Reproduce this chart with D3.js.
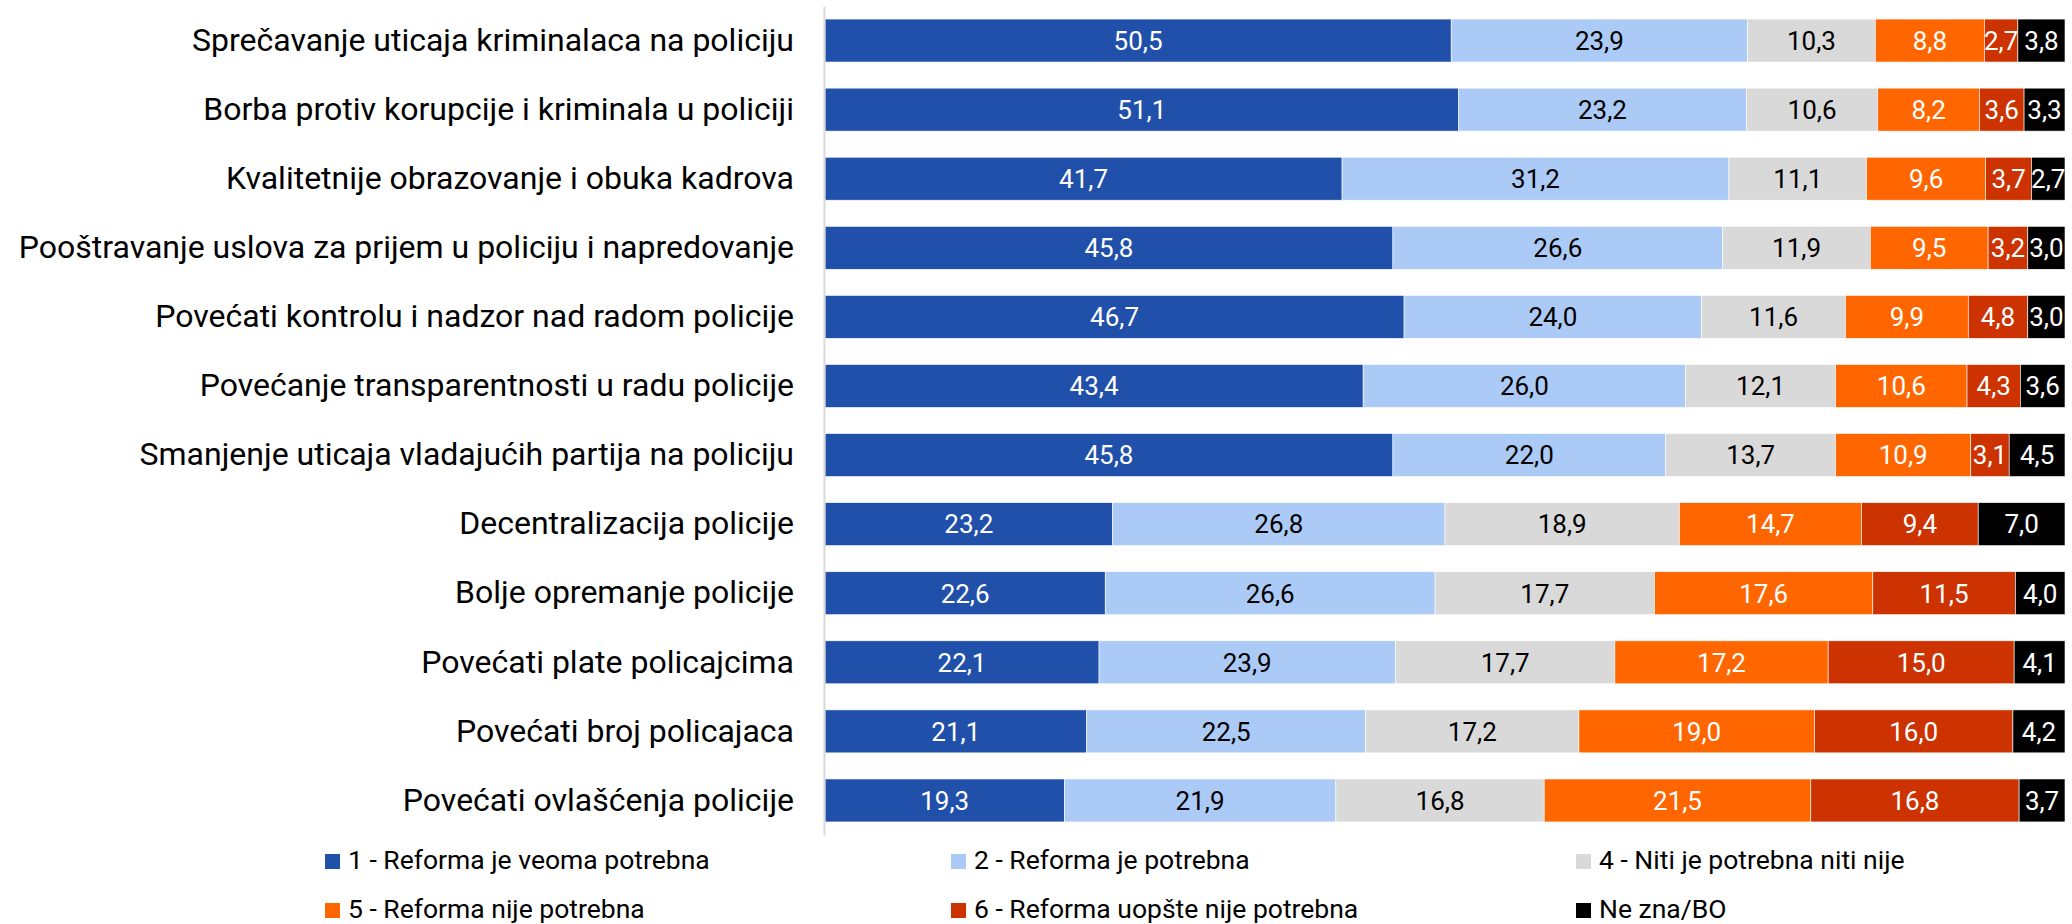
<!DOCTYPE html>
<html>
<head>
<meta charset="utf-8">
<script src="https://cdn.jsdelivr.net/npm/d3@7"></script>
<style>
body{margin:0;background:#fff;}
svg text{font-family:Roboto, "Noto Sans", sans-serif;}
.y .domain{stroke:#d9d9d9;stroke-width:2;}
</style>
</head>
<body>
<div id="graph"></div>
<script>
(function(){
"use strict";

var categories = [
	"Sprečavanje uticaja kriminalaca na policiju",
	"Borba protiv korupcije i kriminala u policiji",
	"Kvalitetnije obrazovanje i obuka kadrova",
	"Pooštravanje uslova za prijem u policiju i napredovanje",
	"Povećati kontrolu i nadzor nad radom policije",
	"Povećanje transparentnosti u radu policije",
	"Smanjenje uticaja vladajućih partija na policiju",
	"Decentralizacija policije",
	"Bolje opremanje policije",
	"Povećati plate policajcima",
	"Povećati broj policajaca",
	"Povećati ovlašćenja policije"
];
var seriesNames = ["1 - Reforma je veoma potrebna", "2 - Reforma je potrebna", "4 - Niti je potrebna niti nije",
	"5 - Reforma nije potrebna", "6 - Reforma uopšte nije potrebna", "Ne zna/BO"];
var veomaPotrebna = [50.5, 51.1, 41.7, 45.8, 46.7, 43.4, 45.8, 23.2, 22.6, 22.1, 21.1, 19.3];
var potrebna      = [23.9, 23.2, 31.2, 26.6, 24.0, 26.0, 22.0, 26.8, 26.6, 23.9, 22.5, 21.9];
var nitiNije      = [10.3, 10.6, 11.1, 11.9, 11.6, 12.1, 13.7, 18.9, 17.7, 17.7, 17.2, 16.8];
var nijePotrebna  = [8.8, 8.2, 9.6, 9.5, 9.9, 10.6, 10.9, 14.7, 17.6, 17.2, 19.0, 21.5];
var uopsteNije    = [2.7, 3.6, 3.7, 3.2, 4.8, 4.3, 3.1, 9.4, 11.5, 15.0, 16.0, 16.8];
var neZna         = [3.8, 3.3, 2.7, 3.0, 3.0, 3.6, 4.5, 7.0, 4.0, 4.1, 4.2, 3.7];

var colors = ["#2150aa", "#abcaf6", "#d9d9d9", "#ff6600", "#cc3300", "#000000"];
var textColors = ["#fff", "#000", "#000", "#fff", "#fff", "#fff"];

var width = 2072;
var height = 924;
var left = 825;
var right = 2065;

// build rows for the stack
var keys = ["s0", "s1", "s2", "s3", "s4", "s5"];
var allSeries = [veomaPotrebna, potrebna, nitiNije, nijePotrebna, uopsteNije, neZna];
var rows = categories.map(function(c, i){
	var r = {name: c};
	keys.forEach(function(k, j){ r[k] = allSeries[j][i]; });
	return r;
});
var stacked = d3.stack().keys(keys)(rows);

var x = d3.scaleLinear()
	.domain([0, 100])
	.range([left, right]);
var y = d3.scaleBand()
	.domain(categories)
	.range([6, 835])
	.paddingInner(0.378)
	.paddingOuter(0.189);

var fmt = function(v){ return v.toFixed(1).replace(".", ","); };

var svg = d3.select('#graph')
	.append('svg')
		.attr('width', width)
		.attr('height', height);

var layer = svg.selectAll('.layer')
	.data(stacked)
	.enter()
	.append('g')
		.attr('class', 'layer')
		.attr('fill', function(d, i){ return colors[i]; });

layer.selectAll('rect')
	.data(function(d){ return d; })
	.enter()
	.append('rect')
		.attr('x', function(d){ return x(d[0]); })
		.attr('y', function(d){ return y(d.data.name); })
		.attr('width', function(d){ return x(d[1]) - x(d[0]); })
		.attr('height', y.bandwidth())
		.attr('stroke', '#fff')
		.attr('stroke-width', 0.6);

layer.selectAll('text')
	.data(function(d){ return d; })
	.enter()
	.append('text')
		.attr('x', function(d){ return (x(d[0]) + x(d[1])) / 2; })
		.attr('y', function(d){ return y(d.data.name) + y.bandwidth() / 2; })
		.attr('dy', '0.36em')
		.attr('text-anchor', 'middle')
		.style('font-size', '26px')
		.attr('fill', function(d){ return textColors[keys.indexOf(this.parentNode.__data__.key)]; })
		.text(function(d){ return fmt(d[1] - d[0]); });

svg.append('g')
	.attr('class', 'y')
	.attr('transform', 'translate(' + (left - 1) + ',0)')
	.call(d3.axisLeft(y).tickSize(0).tickPadding(30).tickSizeOuter(0))
	.selectAll('text')
		.style('font-size', '32px')
		.style('font-family', 'Roboto, sans-serif')
		.attr('fill', '#000');

// legend, 3 columns x 2 rows
var legX = [325, 951, 1576];
var legY = [861.5, 910.5];
var legend = svg.selectAll('.leg')
	.data(seriesNames)
	.enter()
	.append('g')
		.attr('class', 'leg')
		.attr('transform', function(d, i){
			return 'translate(' + legX[i % 3] + ',' + legY[Math.floor(i / 3)] + ')';
		});
legend.append('rect')
	.attr('x', 0)
	.attr('y', -7.5)
	.attr('width', 15)
	.attr('height', 15)
	.attr('fill', function(d, i){ return colors[i]; });
legend.append('text')
	.attr('x', 23)
	.attr('dy', '0.27em')
	.style('font-size', '26.5px')
	.text(function(d){ return d; });
})();
</script>
</body>
</html>
